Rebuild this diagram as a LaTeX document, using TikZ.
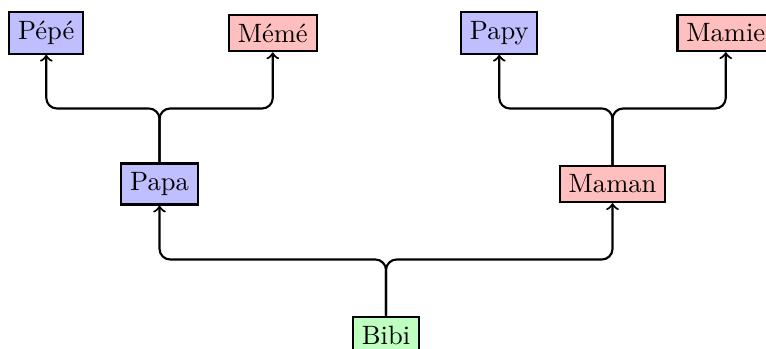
\documentclass[tikz,border=0pt]{standalone}
\usepackage{xcolor}
\usepackage{tikz}
\usetikzlibrary{positioning,calc}

\begin{document}
\begin{tikzpicture}[
  node distance=2cm and 3cm, on grid,
  person/.style={draw, thick},
  him/.style={person, fill=blue!25},
  her/.style={person, fill=red!25},
  kid/.style={person, fill=green!25},
  link/.style={->, thick, rounded corners},
]
  \useasboundingbox (-5.113,-0.185) rectangle (5.033,4.437);

  % Child
  \node[kid] (bibi) at (0,0) {Bibi};

  % Parents
  \node[him, above left=of bibi] (papa) {Papa};
  \node[her, above right=of bibi] (maman) {Maman};

  % Grandparents
  \node[him, above left=2cm and 1.5cm of papa] (pepe) {Pépé};
  \node[her, above right=2cm and 1.5cm of papa] (meme) {Mémé};
  \node[him, above left=2cm and 1.5cm of maman] (papy) {Papy};
  \node[her, above right=2cm and 1.5cm of maman] (mamie) {Mamie};

  % Links
  \foreach \c/\p in {bibi/papa, bibi/maman, papa/pepe, papa/meme, maman/papy, maman/mamie}
    \draw[link] (\c.north) |- ($(\c)!0.5!(\p)$) -| (\p.south);

\end{tikzpicture}
\end{document}
